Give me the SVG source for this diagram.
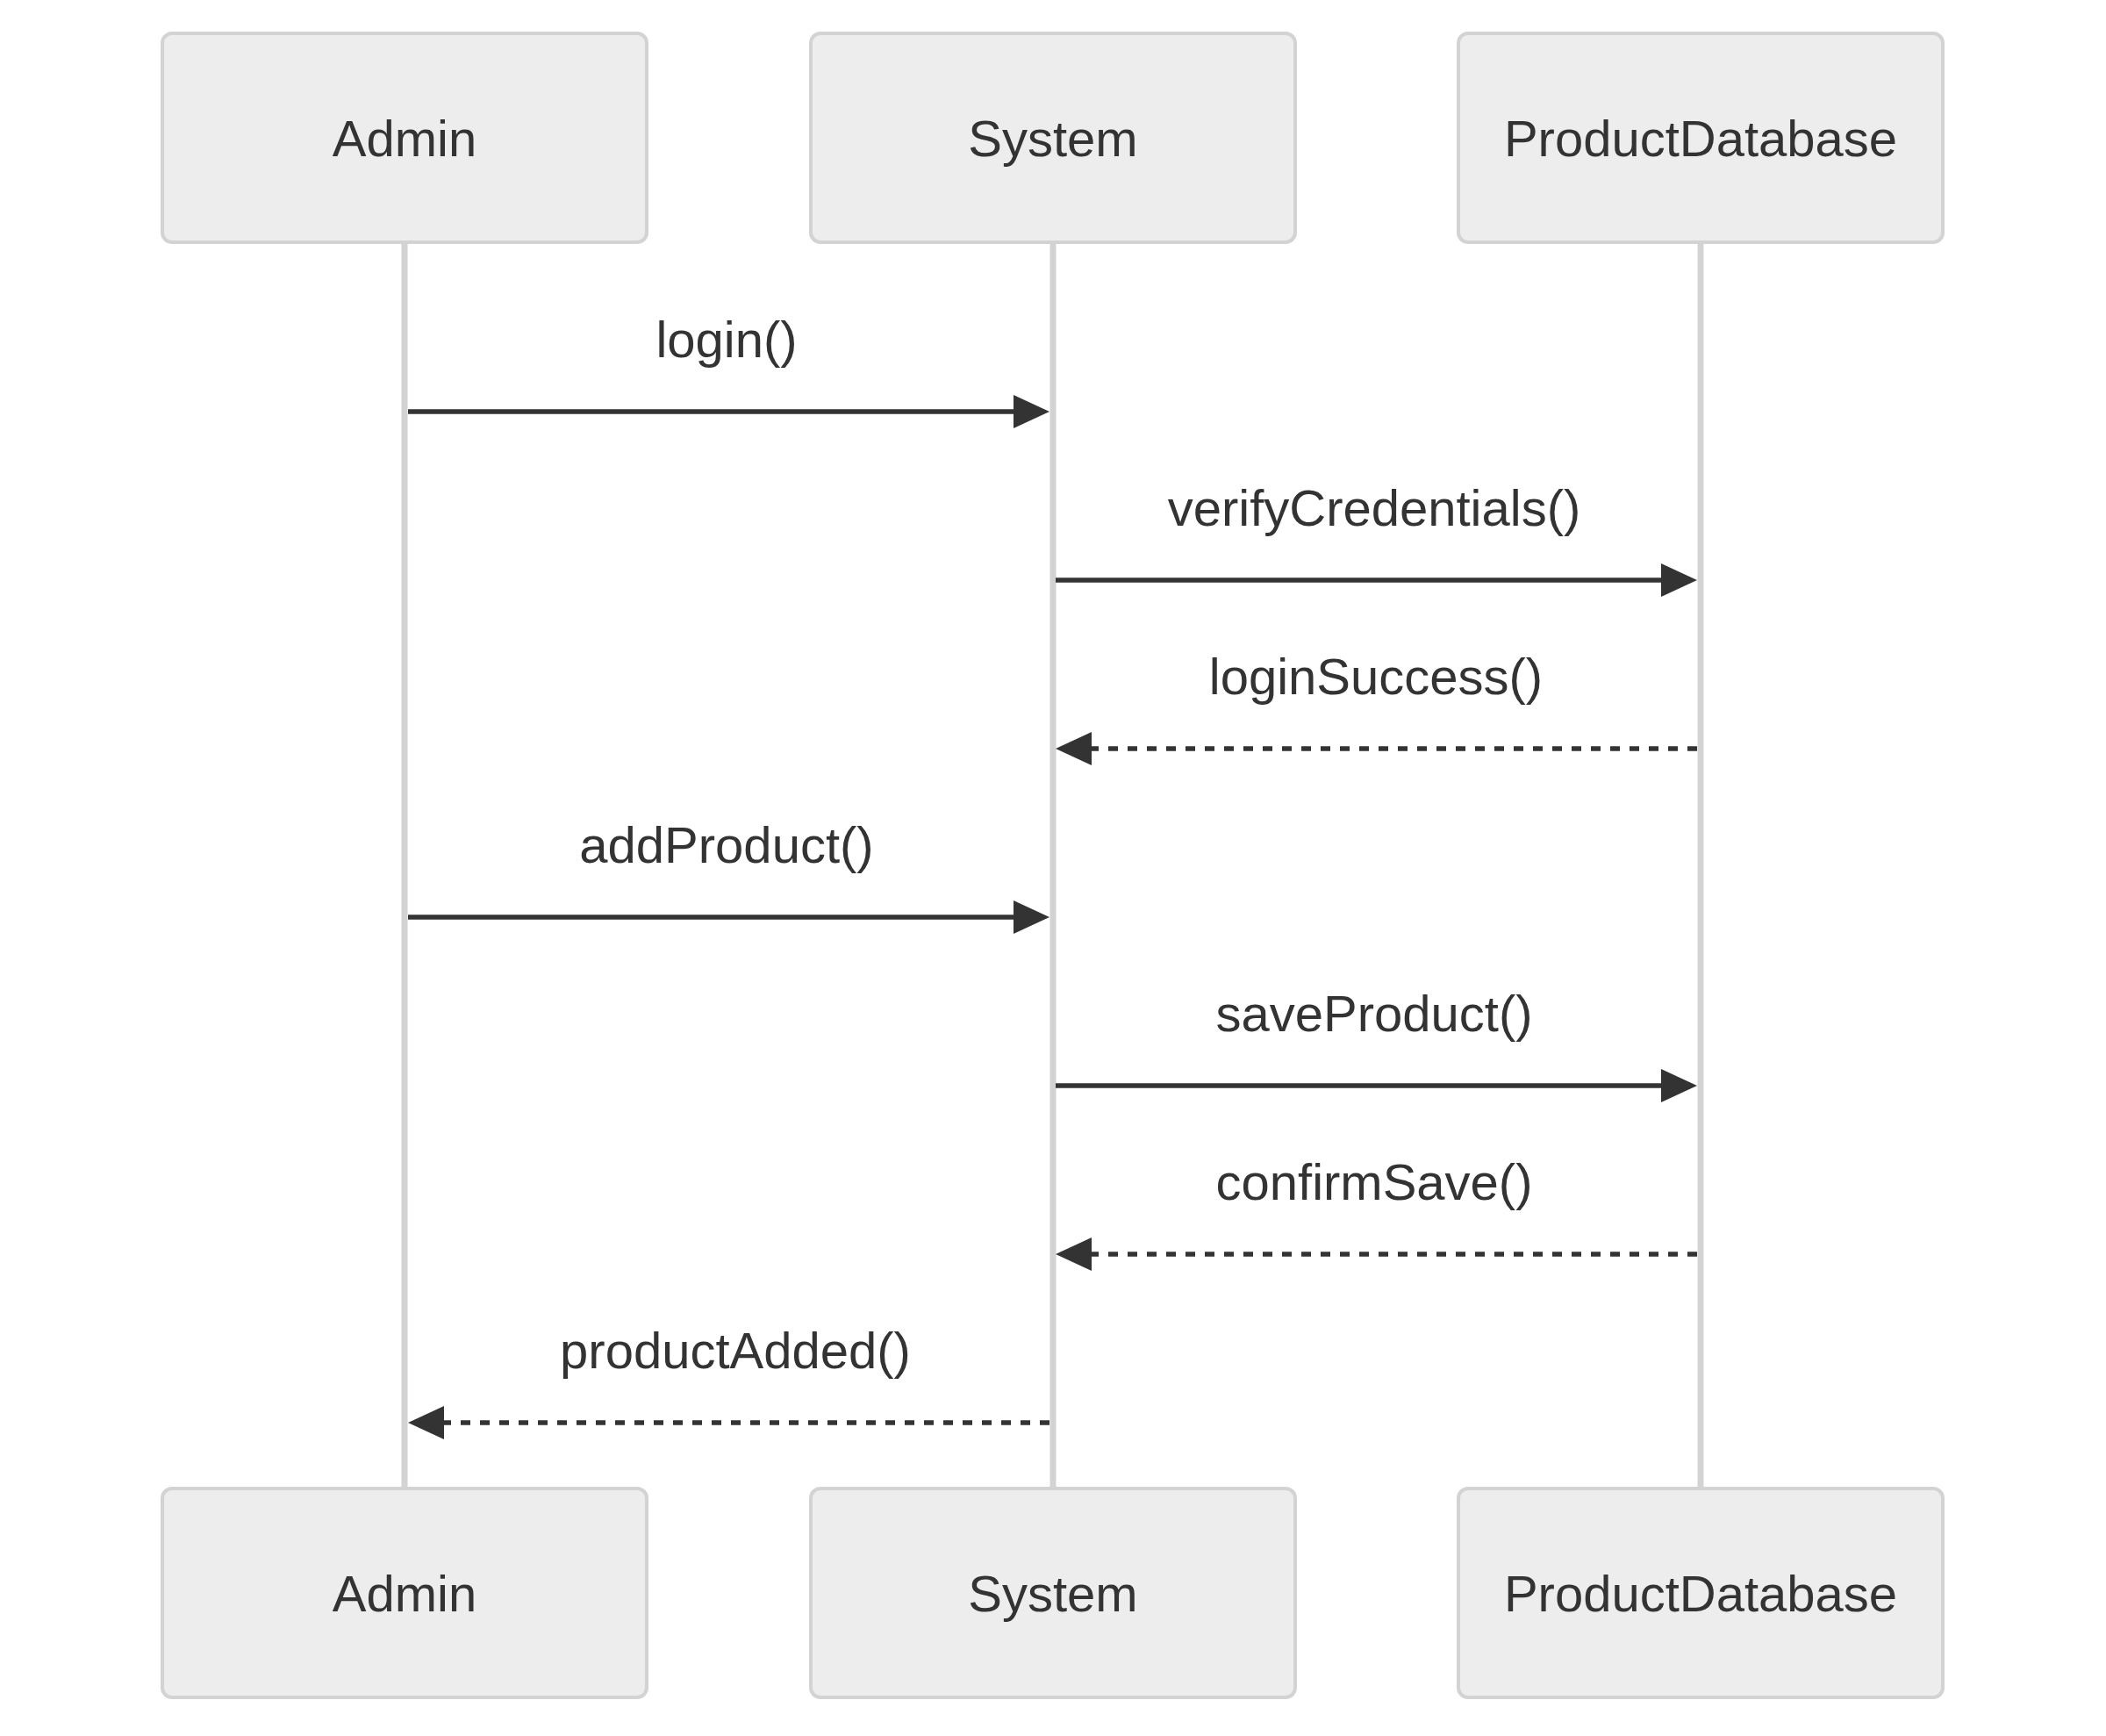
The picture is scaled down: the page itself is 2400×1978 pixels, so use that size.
<svg xmlns="http://www.w3.org/2000/svg" width="2400" height="1978" viewBox="0 0 2400 1978">
<style>
.actor rect{fill:#ededed;stroke:#d3d3d3;stroke-width:4}
.lbl{font-family:"Liberation Sans",Arial,sans-serif;font-size:58px;fill:#333;text-anchor:middle}
.life{stroke:#d3d3d3;stroke-width:7}
.msg{stroke:#333;stroke-width:5.5;fill:none;marker-end:url(#arr)}
.dash{stroke-dasharray:11,11}
</style>
<defs>
<marker id="arr" markerUnits="userSpaceOnUse" markerWidth="44" markerHeight="40" refX="0" refY="19" orient="auto" viewBox="0 0 44 40" overflow="visible">
<path d="M0,0 L41,19 L0,38 z" fill="#333"/>
</marker>
</defs>
<rect width="2400" height="1978" fill="#fff"/>
<g id="lifelines">
<line class="life" x1="461" y1="276" x2="461" y2="1696"/>
<line class="life" x1="1200" y1="276" x2="1200" y2="1696"/>
<line class="life" x1="1938" y1="276" x2="1938" y2="1696"/>
</g>
<g id="actor-admin-top" class="actor"><rect x="185" y="38" width="552" height="238" rx="11"/><text class="lbl" x="461" y="178">Admin</text></g>
<g id="actor-system-top" class="actor"><rect x="924" y="38" width="552" height="238" rx="11"/><text class="lbl" x="1200" y="178">System</text></g>
<g id="actor-db-top" class="actor"><rect x="1662" y="38" width="552" height="238" rx="11"/><text class="lbl" x="1938" y="178">ProductDatabase</text></g>
<g id="actor-admin-bottom" class="actor"><rect x="185" y="1696" width="552" height="238" rx="11"/><text class="lbl" x="461" y="1836">Admin</text></g>
<g id="actor-system-bottom" class="actor"><rect x="924" y="1696" width="552" height="238" rx="11"/><text class="lbl" x="1200" y="1836">System</text></g>
<g id="actor-db-bottom" class="actor"><rect x="1662" y="1696" width="552" height="238" rx="11"/><text class="lbl" x="1938" y="1836">ProductDatabase</text></g>
<g id="connectors">
<line class="msg" x1="465" y1="469" x2="1155" y2="469"/>
<text class="lbl" x="828" y="407">login()</text>
<line class="msg" x1="1203" y1="661" x2="1893" y2="661"/>
<text class="lbl" x="1566" y="599">verifyCredentials()</text>
<line class="msg dash" x1="1934" y1="853" x2="1244" y2="853"/>
<text class="lbl" x="1568" y="791">loginSuccess()</text>
<line class="msg" x1="465" y1="1045" x2="1155" y2="1045"/>
<text class="lbl" x="828" y="983">addProduct()</text>
<line class="msg" x1="1203" y1="1237" x2="1893" y2="1237"/>
<text class="lbl" x="1566" y="1175">saveProduct()</text>
<line class="msg dash" x1="1934" y1="1429" x2="1244" y2="1429"/>
<text class="lbl" x="1566" y="1367">confirmSave()</text>
<line class="msg dash" x1="1196" y1="1621" x2="506" y2="1621"/>
<text class="lbl" x="838" y="1559">productAdded()</text>
</g>
</svg>
